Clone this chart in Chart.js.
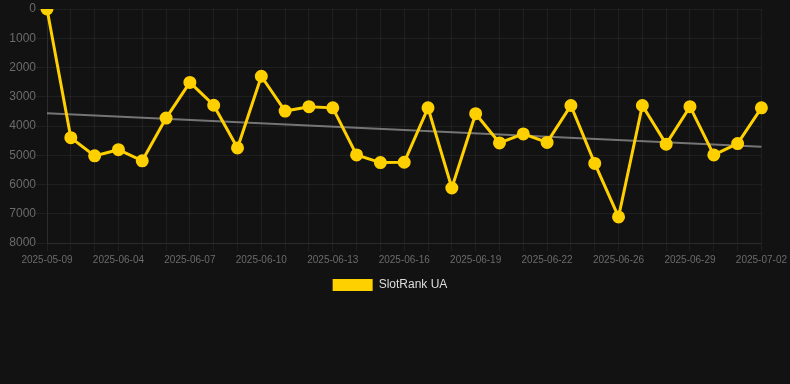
<!DOCTYPE html>
<html>
<head>
<meta charset="utf-8">
<script src="https://cdn.jsdelivr.net/npm/chart.js@4/dist/chart.umd.min.js"></script>
<style>
  html, body { margin: 0; padding: 0; background: #121212; }
  #wrap { width: 790px; height: 384px; }
</style>
</head>
<body>
<div id="wrap"><canvas id="rank-chart" width="790" height="384"></canvas></div>
<script>
// Dates on the x axis (category axis, gaps in the calendar are kept as-is)
const dates = [
  '2025-05-09', '2025-06-02', '2025-06-03', '2025-06-04', '2025-06-05',
  '2025-06-06', '2025-06-07', '2025-06-08', '2025-06-09', '2025-06-10',
  '2025-06-11', '2025-06-12', '2025-06-13', '2025-06-14', '2025-06-15',
  '2025-06-16', '2025-06-17', '2025-06-18', '2025-06-19', '2025-06-20',
  '2025-06-21', '2025-06-22', '2025-06-23', '2025-06-24', '2025-06-26',
  '2025-06-27', '2025-06-28', '2025-06-29', '2025-06-30', '2025-07-01',
  '2025-07-02'
];

// Rank values
const rankUA = [
  0, 4400, 5020, 4810, 5190, 3730, 2510, 3290, 4750, 2300,
  3490, 3340, 3380, 4990, 5250, 5240, 3380, 6120, 3580, 4580,
  4270, 4560, 3300, 5280, 7110, 3300, 4620, 3340, 4990, 4600,
  3380
];

// Trend line end points
const trendStart = 3560;
const trendEnd = 4710;

const trendData = dates.map((d, i) => {
  if (i === 0) return trendStart;
  if (i === dates.length - 1) return trendEnd;
  return null;
});

const gridColor = 'rgba(255,255,255,0.06)';
const tickColor = '#6b6b6b';

new Chart(document.getElementById('rank-chart'), {
  type: 'line',
  data: {
    labels: dates,
    datasets: [
      {
        label: 'SlotRank UA',
        data: rankUA,
        borderColor: '#FFD000',
        backgroundColor: '#FFD000',
        borderWidth: 3,
        pointRadius: 5,
        pointHoverRadius: 6,
        tension: 0
      },
      {
        label: 'Trend',
        data: trendData,
        borderColor: 'rgba(150,150,150,0.75)',
        borderWidth: 2,
        pointRadius: 0,
        spanGaps: true,
        tension: 0
      }
    ]
  },
  options: {
    responsive: false,
    animation: false,
    layout: {
      padding: { left: 0, right: 10, top: 0, bottom: 83 }
    },
    scales: {
      x: {
        grid: { color: gridColor, tickLength: 8 },
        border: { color: gridColor },
        ticks: {
          color: tickColor,
          font: { size: 10, family: 'Arial, "Liberation Sans", sans-serif' },
          autoSkip: false,
          maxRotation: 0,
          callback: function (val, idx) {
            return idx % 3 === 0 ? this.getLabelForValue(val) : '';
          }
        }
      },
      y: {
        reverse: true,
        min: 0,
        max: 8000,
        grid: { color: gridColor, tickLength: 11 },
        border: { color: gridColor },
        afterFit: (scale) => { scale.width = 47; },
        ticks: {
          stepSize: 1000,
          padding: 0,
          color: tickColor,
          font: { size: 12, family: 'Arial, "Liberation Sans", sans-serif' },
          callback: (v) => String(v)
        }
      }
    },
    plugins: {
      legend: {
        position: 'bottom',
        labels: {
          color: '#dddddd',
          boxWidth: 40,
          boxHeight: 12,
          font: { size: 12, family: 'Arial, "Liberation Sans", sans-serif' },
          filter: (item) => item.datasetIndex === 0,
          generateLabels: (chart) => {
            const items = Chart.defaults.plugins.legend.labels.generateLabels(chart);
            items.forEach((it) => { it.lineWidth = 0; });
            return items;
          }
        }
      },
      tooltip: { enabled: false }
    }
  }
});
</script>
</body>
</html>
